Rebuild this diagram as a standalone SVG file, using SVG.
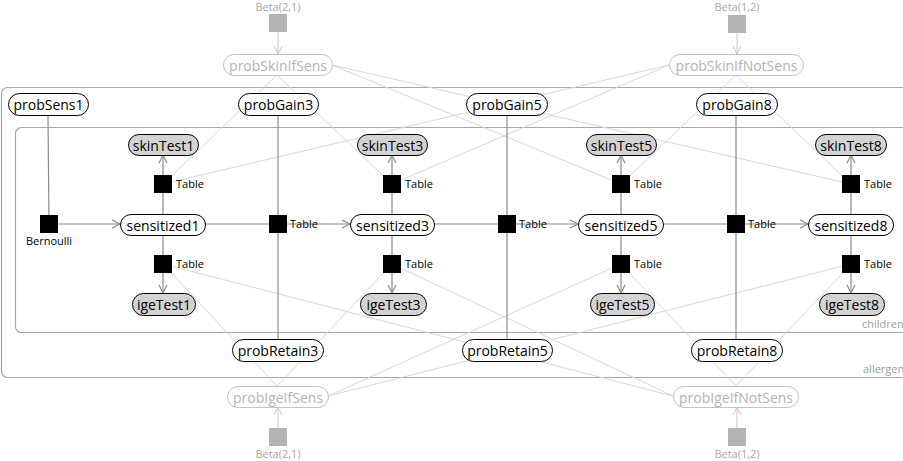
<svg xmlns="http://www.w3.org/2000/svg" width="903" height="461" viewBox="0 0 903 461">
<defs>
<style>
text{font-family:"Open Sans","Noto Sans","DejaVu Sans",sans-serif}
.lbl{font-size:14px;text-anchor:middle;dominant-baseline:central;fill:#000}
.node rect{fill:#fff;stroke:#000;stroke-width:1}
.obs rect{fill:#d3d3d3;stroke:#000;stroke-width:1}
.hyp rect{fill:#fff;stroke:#c4c4c4;stroke-width:1}
.hyp text{fill:#b4b4b4}
.fac rect{fill:#000;stroke:none}
.prior rect{fill:#b4b4b4;stroke:none}
.small{font-size:11px;fill:#000}
.plab{font-size:11px;fill:#a8a8a8}
.plab2{font-size:11px;fill:#a0a0a0}
.d{stroke:#8c8c8c;stroke-width:1.2;fill:none}
.l{stroke:#d8d8d8;stroke-width:1;fill:none}
.lp{stroke:#c8c8c8;stroke-width:1;fill:none}
.plate{fill:none;stroke:#a8a8a8;stroke-width:1.2}
</style>
<marker id="ad" markerUnits="userSpaceOnUse" markerWidth="12" markerHeight="12" refX="9" refY="5" orient="auto"><path d="M1,1 L9,5 L1,9" fill="none" stroke="#8c8c8c" stroke-width="1.2"/></marker>
<marker id="al" markerUnits="userSpaceOnUse" markerWidth="12" markerHeight="12" refX="9" refY="5" orient="auto"><path d="M1,1 L9,5 L1,9" fill="none" stroke="#c8c8c8" stroke-width="1"/></marker>
</defs>

<g id="plates">
<rect class="plate" x="1.5" y="87.5" width="950" height="290" rx="6"/>
<rect class="plate" x="15.5" y="127.5" width="930" height="205" rx="6"/>
<text class="plab2" x="862" y="328">children</text>
<text class="plab2" x="863" y="373">allergens</text>
</g>

<g id="connectors">
<line class="l" x1="277" y1="75" x2="163" y2="184"/>
<line class="l" x1="277" y1="75" x2="392" y2="184"/>
<line class="l" x1="332" y1="65" x2="621" y2="184"/>
<line class="l" x1="332" y1="65" x2="851" y2="184"/>
<line class="l" x1="736" y1="75" x2="621" y2="184"/>
<line class="l" x1="736" y1="75" x2="851" y2="184"/>
<line class="l" x1="669" y1="65" x2="163" y2="184"/>
<line class="l" x1="669" y1="65" x2="392" y2="184"/>
<line class="l" x1="277" y1="386" x2="163" y2="264"/>
<line class="l" x1="277" y1="386" x2="392" y2="264"/>
<line class="l" x1="328" y1="396" x2="621" y2="264"/>
<line class="l" x1="328" y1="396" x2="851" y2="264"/>
<line class="l" x1="736" y1="386" x2="621" y2="264"/>
<line class="l" x1="736" y1="386" x2="851" y2="264"/>
<line class="l" x1="673" y1="396" x2="163" y2="264"/>
<line class="l" x1="673" y1="396" x2="392" y2="264"/>
<line class="lp" x1="278" y1="32" x2="278" y2="54" marker-end="url(#al)"/>
<line class="lp" x1="737" y1="33" x2="737" y2="54" marker-end="url(#al)"/>
<line class="lp" x1="278" y1="428" x2="278" y2="407" marker-end="url(#al)"/>
<line class="lp" x1="737" y1="428" x2="737" y2="407" marker-end="url(#al)"/>
<line class="d" x1="48" y1="115" x2="49" y2="224"/>
<line class="d" x1="58" y1="224" x2="120" y2="224" marker-end="url(#ad)"/>
<line class="d" x1="205" y1="224" x2="278" y2="224"/>
<line class="d" x1="287" y1="224" x2="350" y2="224" marker-end="url(#ad)"/>
<line class="d" x1="434" y1="224" x2="507" y2="224"/>
<line class="d" x1="516" y1="224" x2="578" y2="224" marker-end="url(#ad)"/>
<line class="d" x1="663" y1="224" x2="736" y2="224"/>
<line class="d" x1="745" y1="224" x2="808" y2="224" marker-end="url(#ad)"/>
<line class="d" x1="278" y1="115" x2="278" y2="339"/>
<line class="d" x1="507" y1="115" x2="507" y2="339"/>
<line class="d" x1="736" y1="115" x2="736" y2="339"/>
<line class="d" x1="163" y1="214" x2="163" y2="184"/>
<line class="d" x1="163" y1="175" x2="163" y2="155" marker-end="url(#ad)"/>
<line class="d" x1="392" y1="214" x2="392" y2="184"/>
<line class="d" x1="392" y1="175" x2="392" y2="155" marker-end="url(#ad)"/>
<line class="d" x1="621" y1="214" x2="621" y2="184"/>
<line class="d" x1="621" y1="175" x2="621" y2="155" marker-end="url(#ad)"/>
<line class="d" x1="851" y1="214" x2="851" y2="184"/>
<line class="d" x1="851" y1="175" x2="851" y2="155" marker-end="url(#ad)"/>
<line class="d" x1="163" y1="235" x2="163" y2="264"/>
<line class="d" x1="163" y1="273" x2="163" y2="293" marker-end="url(#ad)"/>
<line class="d" x1="392" y1="235" x2="392" y2="264"/>
<line class="d" x1="392" y1="273" x2="392" y2="293" marker-end="url(#ad)"/>
<line class="d" x1="621" y1="235" x2="621" y2="264"/>
<line class="d" x1="621" y1="273" x2="621" y2="293" marker-end="url(#ad)"/>
<line class="d" x1="851" y1="235" x2="851" y2="264"/>
<line class="d" x1="851" y1="273" x2="851" y2="293" marker-end="url(#ad)"/>
</g>

<g id="prior_skin_sens" class="prior"><rect x="269" y="14" width="18" height="18"/><text class="plab" x="278" y="11" text-anchor="middle">Beta(2,1)</text></g>
<g id="prior_skin_notsens" class="prior"><rect x="728" y="15" width="18" height="18"/><text class="plab" x="737" y="11" text-anchor="middle">Beta(1,2)</text></g>
<g id="prior_ige_sens" class="prior"><rect x="269" y="428" width="18" height="18"/><text class="plab" x="278" y="458" text-anchor="middle">Beta(2,1)</text></g>
<g id="prior_ige_notsens" class="prior"><rect x="728" y="428" width="18" height="18"/><text class="plab" x="737" y="458" text-anchor="middle">Beta(1,2)</text></g>

<g id="probSkinIfSens" class="hyp"><rect x="223.5" y="54.5" width="109" height="21" rx="10.5"/><text class="lbl" x="278" y="65">probSkinIfSens</text></g>
<g id="probSkinIfNotSens" class="hyp"><rect x="669.5" y="54.5" width="134" height="21" rx="10.5"/><text class="lbl" x="736.5" y="65">probSkinIfNotSens</text></g>
<g id="probIgeIfSens" class="hyp"><rect x="227.5" y="386.5" width="101" height="21" rx="10.5"/><text class="lbl" x="278" y="397">probIgeIfSens</text></g>
<g id="probIgeIfNotSens" class="hyp"><rect x="673.5" y="386.5" width="125" height="21" rx="10.5"/><text class="lbl" x="736" y="397">probIgeIfNotSens</text></g>

<g id="probSens1" class="node"><rect x="8.5" y="93.5" width="80" height="22" rx="11"/><text class="lbl" x="48.5" y="104.5">probSens1</text></g>
<g id="probGain3" class="node"><rect x="238.5" y="93.5" width="80" height="22" rx="11"/><text class="lbl" x="278.5" y="104.5">probGain3</text></g>
<g id="probGain5" class="node"><rect x="466.5" y="93.5" width="81" height="22" rx="11"/><text class="lbl" x="507" y="104.5">probGain5</text></g>
<g id="probGain8" class="node"><rect x="696.5" y="93.5" width="81" height="22" rx="11"/><text class="lbl" x="737" y="104.5">probGain8</text></g>
<g id="probRetain3" class="node"><rect x="232.5" y="339.5" width="91" height="22" rx="11"/><text class="lbl" x="278" y="350.5">probRetain3</text></g>
<g id="probRetain5" class="node"><rect x="462.5" y="339.5" width="90" height="22" rx="11"/><text class="lbl" x="507.5" y="350.5">probRetain5</text></g>
<g id="probRetain8" class="node"><rect x="691.5" y="339.5" width="91" height="22" rx="11"/><text class="lbl" x="737" y="350.5">probRetain8</text></g>

<g id="skinTest1" class="obs"><rect x="128.5" y="134.5" width="70" height="21" rx="10.5"/><text class="lbl" x="163.5" y="145">skinTest1</text></g>
<g id="skinTest3" class="obs"><rect x="357.5" y="134.5" width="70" height="21" rx="10.5"/><text class="lbl" x="392.5" y="145">skinTest3</text></g>
<g id="skinTest5" class="obs"><rect x="586.5" y="134.5" width="70" height="21" rx="10.5"/><text class="lbl" x="621.5" y="145">skinTest5</text></g>
<g id="skinTest8" class="obs"><rect x="815.5" y="134.5" width="71" height="21" rx="10.5"/><text class="lbl" x="851" y="145">skinTest8</text></g>

<g id="sensitized1" class="node"><rect x="120.5" y="214.5" width="85" height="21" rx="10.5"/><text class="lbl" x="163" y="225">sensitized1</text></g>
<g id="sensitized3" class="node"><rect x="350.5" y="214.5" width="84" height="21" rx="10.5"/><text class="lbl" x="392.5" y="225">sensitized3</text></g>
<g id="sensitized5" class="node"><rect x="578.5" y="214.5" width="85" height="21" rx="10.5"/><text class="lbl" x="621" y="225">sensitized5</text></g>
<g id="sensitized8" class="node"><rect x="808.5" y="214.5" width="85" height="21" rx="10.5"/><text class="lbl" x="851" y="225">sensitized8</text></g>

<g id="igeTest1" class="obs"><rect x="132.5" y="293.5" width="63" height="22" rx="11"/><text class="lbl" x="164" y="304.5">igeTest1</text></g>
<g id="igeTest3" class="obs"><rect x="360.5" y="293.5" width="66" height="22" rx="11"/><text class="lbl" x="393.5" y="304.5">igeTest3</text></g>
<g id="igeTest5" class="obs"><rect x="590.5" y="293.5" width="64" height="22" rx="11"/><text class="lbl" x="622.5" y="304.5">igeTest5</text></g>
<g id="igeTest8" class="obs"><rect x="819.5" y="293.5" width="65" height="22" rx="11"/><text class="lbl" x="852" y="304.5">igeTest8</text></g>

<g id="f_bern" class="fac"><rect x="40" y="215" width="18" height="18"/><text class="small" x="49" y="245" text-anchor="middle">Bernoulli</text></g>
<g id="f_skin1" class="fac"><rect x="154" y="175" width="18" height="18"/><text class="small" x="176" y="188">Table</text></g>
<g id="f_skin3" class="fac"><rect x="383" y="175" width="18" height="18"/><text class="small" x="405" y="188">Table</text></g>
<g id="f_skin5" class="fac"><rect x="612" y="175" width="18" height="18"/><text class="small" x="634" y="188">Table</text></g>
<g id="f_skin8" class="fac"><rect x="842" y="175" width="18" height="18"/><text class="small" x="864" y="188">Table</text></g>
<g id="f_tr3" class="fac"><rect x="269" y="215" width="18" height="18"/><text class="small" x="290" y="228">Table</text></g>
<g id="f_tr5" class="fac"><rect x="498" y="215" width="18" height="18"/><text class="small" x="519" y="228">Table</text></g>
<g id="f_tr8" class="fac"><rect x="727" y="215" width="18" height="18"/><text class="small" x="748" y="228">Table</text></g>
<g id="f_ige1" class="fac"><rect x="154" y="255" width="18" height="18"/><text class="small" x="176" y="268">Table</text></g>
<g id="f_ige3" class="fac"><rect x="383" y="255" width="18" height="18"/><text class="small" x="405" y="268">Table</text></g>
<g id="f_ige5" class="fac"><rect x="612" y="255" width="18" height="18"/><text class="small" x="634" y="268">Table</text></g>
<g id="f_ige8" class="fac"><rect x="842" y="255" width="18" height="18"/><text class="small" x="864" y="268">Table</text></g>
</svg>
